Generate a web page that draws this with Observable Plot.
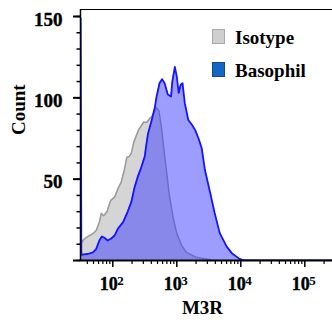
<!DOCTYPE html>
<html><head><meta charset="utf-8">
<script src="https://cdn.jsdelivr.net/npm/d3@7"></script>
<script src="https://cdn.jsdelivr.net/npm/@observablehq/plot@0.6"></script>
<style>
html,body{margin:0;padding:0;background:#fff;}
#wrap{position:relative;width:332px;height:326px;font-family:"Liberation Serif","Times New Roman",serif;font-weight:bold;}
.sw{position:absolute;box-sizing:border-box;}
.lt{position:absolute;font-size:19px;line-height:19px;white-space:nowrap;color:#000;}
</style></head><body><div id="wrap"></div>
<script>
// Isotype histogram (M3R intensity, count)
const isotypeM3R = [31.3, 35, 41, 49, 55, 62, 66, 72, 81, 93, 107, 120, 135, 151, 166, 182, 195, 214, 251, 302, 339, 380, 427, 479, 525, 575, 631, 676, 759, 871, 1000, 1202, 1413, 1995, 2818, 3981, 271000];
const isotypeCount = [10, 12.8, 14.8, 16.5, 18.5, 23.7, 29, 27.5, 30, 37, 39, 44, 48, 55.5, 63.5, 64, 66, 73, 80, 85, 85, 87.5, 89.5, 94, 92, 82, 68, 58, 41, 27, 16.5, 9, 5, 2, 1, 0, 0];
// Basophil histogram
const basophilM3R = [31.5, 32.3, 35.2, 40.7, 49, 55, 61.7, 67.6, 74, 83.2, 93.3, 107, 120, 145, 170, 195, 219, 245, 275, 316, 331, 355, 398, 457, 479, 537, 589, 646, 724, 813, 851, 933, 1000, 1072, 1148, 1230, 1334, 1514, 1738, 1950, 2188, 2455, 2754, 3311, 3890, 4677, 6026, 7244, 9550, 11480, 271000];
const basophilCount = [149, 3.5, 3.7, 4, 5, 7, 12.3, 14.8, 14, 12.3, 13.4, 15.4, 19.5, 23.6, 29.8, 36, 45, 51.4, 56.6, 64, 70, 78, 85, 94.6, 100, 109, 111.5, 109, 102, 100.8, 110, 119, 113, 103, 108, 109, 96.7, 86.4, 83.3, 80, 75, 69, 55.6, 42, 29.5, 17, 8.5, 4.5, 1, 0, 0];
const seriesNames = ["Isotype", "Basophil"];
const xMajorTicks = [100, 1000, 10000, 100000];
const xExponents = ["2", "3", "4", "5"];
const yMajorTicks = [0, 50, 100, 150];
const yTickLabels = [50, 100, 150];
const yMinorTicks = [0,10,20,30,40,50,60,70,80,90,100,110,120,130,140,150];
const xDomain = [31.3, 271000];
const yDomain = [0, 154.3];

const iso = isotypeM3R.map((x, i) => ({x, y: isotypeCount[i]}));
const bas = basophilM3R.map((x, i) => ({x, y: basophilCount[i]}));
const minorX = [];
for (let e = 1; e <= 5; e++) for (let m = 2; m <= 9; m++) { const v = m * 10 ** e; if (v >= xDomain[0] && v <= xDomain[1]) minorX.push(v); }
const serif = "Liberation Serif, Times New Roman, serif";
const txt = {fontWeight: "bold", fontFamily: serif, fill: "#000"};

const chart = Plot.plot({
  width: 332, height: 326, marginLeft: 80, marginRight: 0, marginTop: 9, marginBottom: 66,
  x: {type: "log", domain: xDomain, axis: null},
  y: {domain: yDomain, axis: null},
  style: {fontFamily: serif, fontWeight: "bold", fontSize: "18px", background: "transparent", overflow: "visible"},
  marks: [
    Plot.areaY(iso, {x: "x", y: "y", fill: "#d5d5d5", clip: true}),
    Plot.lineY(iso, {x: "x", y: "y", stroke: "#9a9a9a", strokeWidth: 1.5, clip: true}),
    Plot.areaY(bas, {x: "x", y: "y", fill: "#3c3cff", fillOpacity: 0.5, clip: true}),
    Plot.lineY(bas, {x: "x", y: "y", stroke: "#1414ff", strokeWidth: 1.8, clip: true}),
    Plot.ruleY([yDomain[1]], {stroke: "#000", strokeWidth: 1}),
    Plot.ruleX([xDomain[0]], {stroke: "#000", strokeWidth: 1.5}),
    Plot.ruleY([0], {stroke: "#000", strokeWidth: 2}),
    Plot.axisY({ticks: yMinorTicks, tickSize: 3.5, tickFormat: () => "", strokeWidth: 1.5, label: null}),
    Plot.axisY({ticks: yMajorTicks, tickSize: 7, tickFormat: () => "", strokeWidth: 2, label: null}),
    Plot.text(yTickLabels, {y: d => d, text: d => String(d), frameAnchor: "left", textAnchor: "end", dx: -18, dy: 3, fontSize: 19, stroke: "#000", strokeWidth: 0.4, ...txt}),
    Plot.axisX({ticks: minorX, tickSize: 4, tickFormat: () => "", strokeWidth: 1.2, label: null}),
    Plot.axisX({ticks: xMajorTicks, tickSize: 7, tickFormat: () => "", strokeWidth: 1.5, label: null}),
    Plot.text(xMajorTicks, {x: d => d, text: () => "10", frameAnchor: "bottom", lineAnchor: "bottom", textAnchor: "middle", dx: -4, dy: 29, fontSize: 18, stroke: "#000", strokeWidth: 0.4, ...txt}),
    Plot.text(xMajorTicks, {x: d => d, text: (d, i) => xExponents[i], frameAnchor: "bottom", lineAnchor: "bottom", textAnchor: "start", dx: 4.5, dy: 24, fontSize: 13, ...txt}),
    Plot.text(["Count"], {text: d => d, frameAnchor: "left", rotate: -90, dx: -62, fontSize: 19, ...txt}),
    Plot.text(["M3R"], {text: d => d, frameAnchor: "bottom", lineAnchor: "bottom", dy: 53, dx: -4, fontSize: 19, ...txt})
  ]
});
const wrap = document.getElementById("wrap");
wrap.appendChild(chart);
const legend = [
  {name: seriesNames[0], fill: "#cfcfcf", border: "#a8a8a8", top: 29},
  {name: seriesNames[1], fill: "#1466c3", border: "#0d4a9a", top: 62}
];
legend.forEach(l => {
  const s = document.createElement("div");
  s.className = "sw";
  Object.assign(s.style, {left: "212px", top: l.top + "px", width: "13px", height: "15px", background: l.fill, border: "1.5px solid " + l.border});
  wrap.appendChild(s);
  const t = document.createElement("div");
  t.className = "lt";
  t.textContent = l.name;
  Object.assign(t.style, {left: "235px", top: (l.top - 1) + "px"});
  wrap.appendChild(t);
});
</script>
</body></html>
